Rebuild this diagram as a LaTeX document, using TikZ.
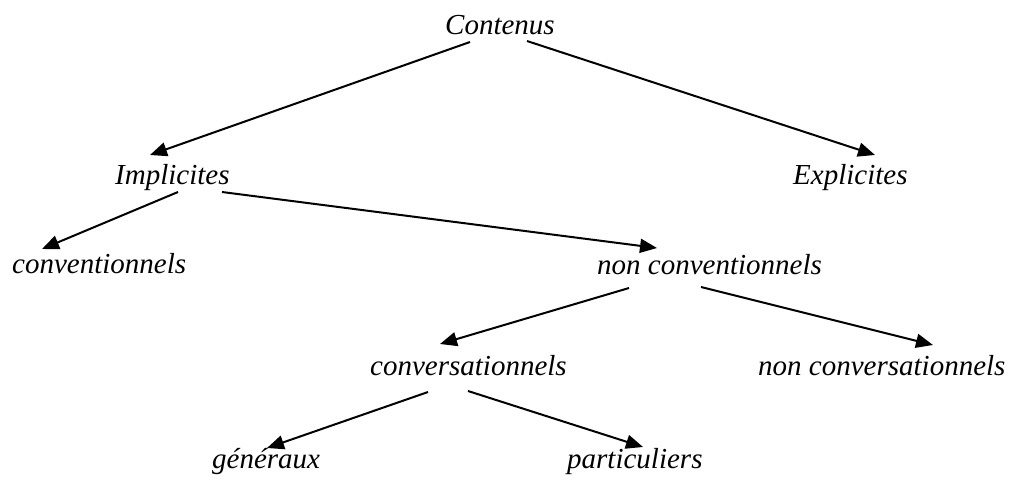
\documentclass[tikz,border=0pt]{standalone}
\usepackage{fontspec}
\setmainfont{Liberation Serif}
\usetikzlibrary{arrows.meta}
\begin{document}
\begin{tikzpicture}[x=1pt,y=-1pt,
        lbl/.style={anchor=base west,inner sep=0pt,font=\fontsize{29}{34}\selectfont\itshape},
        fl/.style={line width=2pt,-{Triangle[length=17pt,width=14pt]}}]
        \useasboundingbox (0,0) rectangle (1010,480);

        \node[lbl] (cont) at (445,34) {Contenus};
        \node[lbl] (impl) at (115,184) {Implicites};
        \node[lbl] (expl) at (793,184) {Explicites};
        \node[lbl] (conv) at (12,273) {conventionnels};
        \node[lbl] (nconv) at (597,274) {non conventionnels};
        \node[lbl] (cvs) at (370,375) {conversationnels};
        \node[lbl] (ncvs) at (758,375) {non conversationnels};
        \node[lbl] (gen) at (212,468) {généraux};
        \node[lbl] (part) at (567,468) {particuliers};

        \draw[fl] ([shift={(25,8)}]cont.base west) -- ([shift={(35,-29)}]impl.base west);
        \draw[fl] ([shift={(82,7)}]cont.base west) -- ([shift={(82,-29)}]expl.base west);
        \draw[fl] ([shift={(63,8)}]impl.base west) -- ([shift={(30,-24)}]conv.base west);
        \draw[fl] ([shift={(107,8)}]impl.base west) -- ([shift={(60,-26)}]nconv.base west);
        \draw[fl] ([shift={(32,14)}]nconv.base west) -- ([shift={(70,-31)}]cvs.base west);
        \draw[fl] ([shift={(104,13)}]nconv.base west) -- ([shift={(175,-30)}]ncvs.base west);
        \draw[fl] ([shift={(58,17)}]cvs.base west) -- ([shift={(55,-20)}]gen.base west);
        \draw[fl] ([shift={(98,16)}]cvs.base west) -- ([shift={(76,-21)}]part.base west);
    \end{tikzpicture}
\end{document}
